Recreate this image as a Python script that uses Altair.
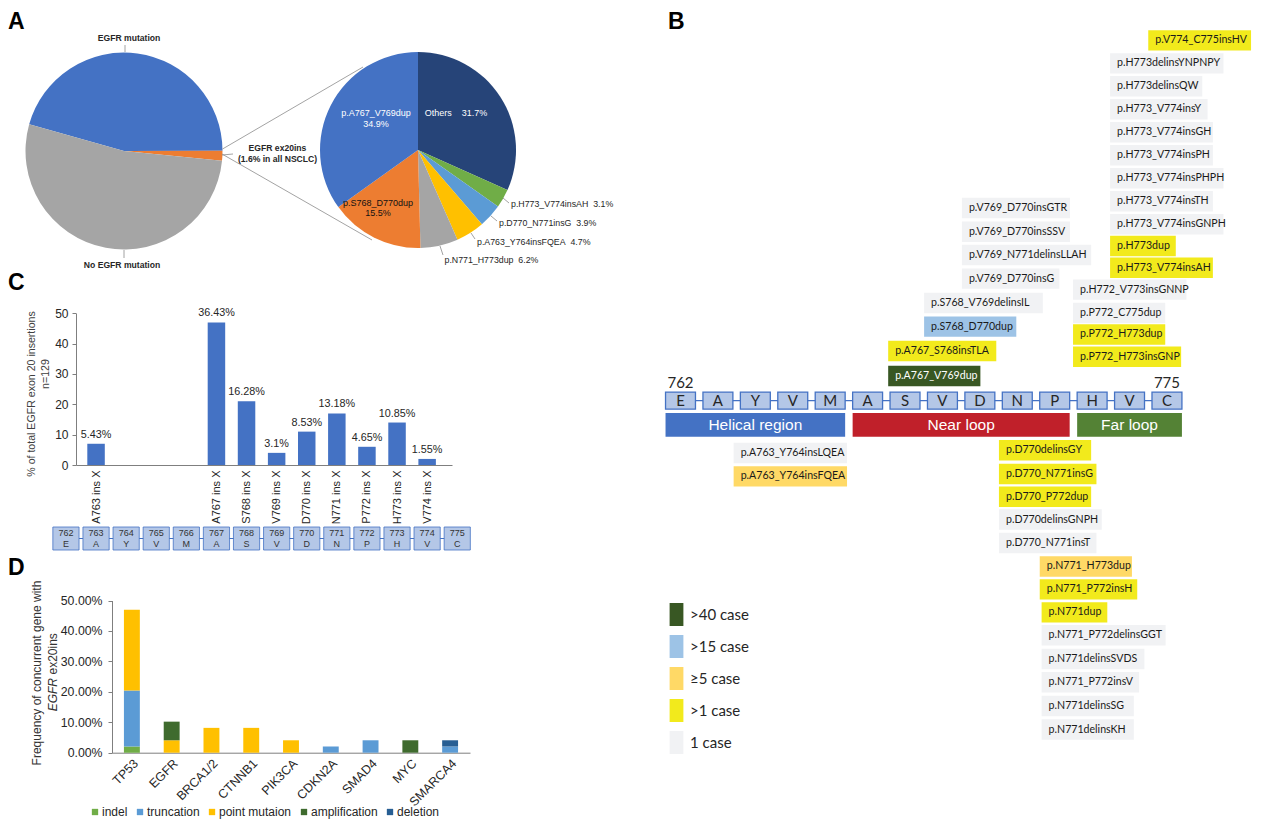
import math
import altair as alt
import pandas as pd

# ===================== DATA =====================
# A: EGFR status in NSCLC (%) and split of EGFR ex20ins variants (%)
pieA_labels = ["EGFR mutation", "EGFR ex20ins", "No EGFR mutation"]
pieA_values = [45.6, 1.6, 52.8]
pieB_labels = ["Others", "p.H773_V774insAH", "p.D770_N771insG", "p.A763_Y764insFQEA",
               "p.N771_H773dup", "p.S768_D770dup", "p.A767_V769dup"]
pieB_values = [31.7, 3.1, 3.9, 4.7, 6.2, 15.5, 34.9]

# B: insertion variants along EGFR exon 20 (residues 762-775)
res_nums = list(range(762, 776))
res_letters = ["E", "A", "Y", "V", "M", "A", "S", "V", "D", "N", "P", "H", "V", "C"]
region_names = ["Helical region", "Near loop", "Far loop"]
region_first = [762, 767, 773]
region_last = [766, 772, 775]
case_classes = [">40 case", ">15 case", "≥5 case", ">1 case", "1 case"]
ins_labels = [
    "p.V774_C775insHV", "p.H773delinsYNPNPY", "p.H773delinsQW", "p.H773_V774insY",
    "p.H773_V774insGH", "p.H773_V774insPH", "p.H773_V774insPHPH", "p.H773_V774insTH",
    "p.H773_V774insGNPH", "p.H773dup", "p.H773_V774insAH",
    "p.H772_V773insGNNP", "p.P772_C775dup", "p.P772_H773dup", "p.P772_H773insGNP",
    "p.V769_D770insGTR", "p.V769_D770insSSV", "p.V769_N771delinsLLAH", "p.V769_D770insG",
    "p.S768_V769delinsIL", "p.S768_D770dup",
    "p.A767_S768insTLA", "p.A767_V769dup",
    "p.A763_Y764insLQEA", "p.A763_Y764insFQEA",
    "p.D770delinsGY", "p.D770_N771insG", "p.D770_P772dup", "p.D770delinsGNPH", "p.D770_N771insT",
    "p.N771_H773dup", "p.N771_P772insH", "p.N771dup", "p.N771_P772delinsGGT",
    "p.N771delinsSVDS", "p.N771_P772insV", "p.N771delinsSG", "p.N771delinsKH",
]
ins_cases = [
    ">1 case", "1 case", "1 case", "1 case",
    "1 case", "1 case", "1 case", "1 case",
    "1 case", ">1 case", ">1 case",
    "1 case", "1 case", ">1 case", ">1 case",
    "1 case", "1 case", "1 case", "1 case",
    "1 case", ">15 case",
    ">1 case", ">40 case",
    "1 case", "≥5 case",
    ">1 case", ">1 case", ">1 case", "1 case", "1 case",
    "≥5 case", ">1 case", ">1 case", "1 case",
    "1 case", "1 case", "1 case", "1 case",
]

# C: cases per insertion site (n=129) and their share
c_sites = [763, 767, 768, 769, 770, 771, 772, 773, 774]
c_counts = [7, 47, 21, 4, 11, 17, 6, 14, 2]
c_pct = ["5.43%", "36.43%", "16.28%", "3.1%", "8.53%", "13.18%", "4.65%", "10.85%", "1.55%"]

# D: concurrent alterations (% of cases)
genes = ["TP53", "EGFR", "BRCA1/2", "CTNNB1", "PIK3CA", "CDKN2A", "SMAD4", "MYC", "SMARCA4"]
mut_types = ["indel", "truncation", "point mutaion", "amplification", "deletion"]
d_indel = [2.04, 0, 0, 0, 0, 0, 0, 0, 0]
d_truncation = [18.37, 0, 0, 0, 0, 2.04, 4.08, 0, 2.04]
d_point = [26.53, 4.08, 8.16, 8.16, 4.08, 0, 0, 0, 0]
d_amplification = [0, 6.12, 0, 0, 0, 0, 0, 4.08, 0]
d_deletion = [0, 0, 0, 0, 0, 0, 0, 0, 2.04]

# ===================== LAYOUT / STYLE =====================
FONT = "Liberation Sans"
FONT_B = "Lato"
TXT = "#262626"
AXC = "#7F7F7F"
NB = "\u00a0"
M = 8
LEFT_W = 625
A_H, C_H, D_H = 263, 284, 265
B_W, B_H = 621, A_H + C_H + D_H

PIE_L = dict(cx=124, cy=151, r=98.5, start=285.7,
             colors=["#4472C4", "#ED7D31", "#A5A5A5"])
PIE_R = dict(cx=418, cy=150, r=98, start=0.0,
             colors=["#264478", "#70AD47", "#5B9BD5", "#FFC000", "#A5A5A5", "#ED7D31", "#4472C4"])

CASE_COLORS = ["#385723", "#9DC3E6", "#FFD966", "#F2EA1C", "#F1F2F4"]
REGION_COLORS = ["#4472C4", "#C0202A", "#548235"]
MUT_COLORS = ["#70AD47", "#5B9BD5", "#FFC000", "#3F6B2E", "#275E93"]

# panel B geometry: residue units horizontally, row units vertically
B_X0, B_Y0 = M + LEFT_W, M
B_RES_X762, B_PITCH = 680.5, 37.42
B_ROW_Y0, B_ROW_H = 40.4, 22.97
ins_col = [774.5] + [773.48] * 10 + [772.49] * 4 + [769.52] * 4 + [768.51] * 2 + \
          [767.55] * 2 + [763.42] * 2 + [770.51] * 5 + [771.6] * 2 + [771.65] * 6
ins_row = [0, 1, 2, 3, 4, 5, 6, 7, 8, 8.95, 9.9,
           10.85, 11.87, 12.8, 13.77,
           7.3, 8.33, 9.34, 10.37,
           11.43, 12.46,
           13.52, 14.61,
           17.96, 18.98,
           17.84, 18.88, 19.87, 20.86, 21.88,
           22.9, 23.9, 24.9, 25.9, 26.93, 27.94, 28.98, 30.0]
RES_ROW, RES_HALF_H, RES_HALF_W = 15.68, 0.37, 0.4
NUM_ROW = 14.92
REG_ROW0, REG_ROW1 = 16.22, 17.26


def text_layer(df, xs, ys, **mk):
    return alt.Chart(df).mark_text(**mk).encode(
        x=alt.X("x:Q", scale=xs, axis=None),
        y=alt.Y("y:Q", scale=ys, axis=None),
        text="t:N")


def rule_layer(df, xs, ys, **mk):
    return alt.Chart(df).mark_rule(**mk).encode(
        x=alt.X("x:Q", scale=xs, axis=None),
        y=alt.Y("y:Q", scale=ys, axis=None),
        x2="x2:Q", y2="y2:Q")


def fixed_text(t, px, py, **mk):
    return alt.Chart(pd.DataFrame({"t": [t]})).mark_text(**mk).encode(
        text="t:N", x=alt.value(px), y=alt.value(py))


def literal_color(field):
    return alt.Color(field, scale=None, legend=None)


# ===================== PANEL A =====================
A_X0, A_Y0 = M, M
xA = alt.Scale(domain=[A_X0, A_X0 + LEFT_W], range=[0, LEFT_W], nice=False, zero=False)
yA = alt.Scale(domain=[A_Y0, A_Y0 + A_H], range=[0, A_H], nice=False, zero=False)


def pie(labels, values, spec):
    df = pd.DataFrame({"label": labels, "val": values,
                       "ord": list(range(len(labels))), "col": spec["colors"]})
    a0 = math.radians(spec["start"])
    return alt.Chart(df).mark_arc(outerRadius=spec["r"]).encode(
        theta=alt.Theta("val:Q", stack=True,
                        scale=alt.Scale(domain=[0, sum(values)], range=[a0, a0 + 2 * math.pi])),
        color=literal_color("col:N"),
        order=alt.Order("ord:Q"),
        x=alt.value(spec["cx"] - A_X0), y=alt.value(spec["cy"] - A_Y0))


pieL = pie(pieA_labels, pieA_values, PIE_L)
pieR = pie(pieB_labels, pieB_values, PIE_R)

connectors = pd.DataFrame({"x": [222.5, 222], "y": [149, 154], "x2": [363, 372], "y2": [67, 240]})
leaders = pd.DataFrame({
    "x": [125, 124, 222, 503, 491, 471, 440],
    "y": [45, 250, 155, 198, 216, 233, 246],
    "x2": [125, 124, 233, 509, 497, 475, 443],
    "y2": [52, 258, 154, 203, 221, 239, 255]})

a_bold = pd.DataFrame({
    "t": [pieA_labels[0], pieA_labels[2], pieA_labels[1], f"({pieA_values[1]}% in all NSCLC)"],
    "x": [129, 122, 277.5, 277.5],
    "y": [38, 265, 148, 158.5]})
a_white = pd.DataFrame({
    "t": [pieB_labels[6], f"{pieB_values[6]}%", f"{pieB_labels[0]}{NB * 4}{pieB_values[0]}%"],
    "x": [376, 376, 456], "y": [113, 124, 113]})
a_dark = pd.DataFrame({
    "t": [pieB_labels[5], f"{pieB_values[5]}%"],
    "x": [378, 378], "y": [202.7, 213]})
a_out = pd.DataFrame({
    "t": [f"{pieB_labels[i]}{NB * 2}{pieB_values[i]}%" for i in (1, 2, 3, 4)],
    "x": [511, 499, 477, 444.5], "y": [204, 223, 242, 260]})
a_letter = pd.DataFrame({"t": ["A"], "x": [8], "y": [29]})

panelA = alt.layer(
    pieL, pieR,
    rule_layer(connectors, xA, yA, color="#8C8C8C", strokeWidth=0.8),
    rule_layer(leaders, xA, yA, color="#8C8C8C", strokeWidth=0.8),
    text_layer(a_bold, xA, yA, font=FONT, fontSize=8.6, fontWeight="bold", color=TXT),
    text_layer(a_white, xA, yA, font=FONT, fontSize=9, color="white"),
    text_layer(a_dark, xA, yA, font=FONT, fontSize=9, color="#111111"),
    text_layer(a_out, xA, yA, font=FONT, fontSize=8.8, color=TXT, align="left"),
    text_layer(a_letter, xA, yA, font=FONT, fontSize=23, fontWeight="bold", color="black",
               align="left", baseline="alphabetic"),
).resolve_scale(theta="independent").properties(width=LEFT_W, height=A_H)

# ===================== PANEL C =====================
C_X0, C_Y0 = M, M + A_H
xC = alt.Scale(domain=[762.5, 774.66], range=[76 - C_X0, 452 - C_X0], nice=False, zero=False)
yC = alt.Scale(domain=[0, 50], range=[465 - C_Y0, 313.3 - C_Y0], nice=False, zero=False)

c_axis_labels = [f"{res_letters[s - res_nums[0]]}{s} ins X" for s in c_sites]
c_label_expr = "[" + ",".join(f"'{l}'" for l in c_axis_labels) + "][indexof([" + \
    ",".join(str(s) for s in c_sites) + "], datum.value)]"
axXC = alt.Axis(values=c_sites, labelExpr=c_label_expr, labelAngle=-90, title=None,
                labelFont=FONT, labelFontSize=11, labelColor=TXT, labelPadding=5,
                labelFlush=False, labelOverlap=False, ticks=False, grid=False,
                domainColor=AXC, offset=(465 - C_Y0) - C_H)
axYC = alt.Axis(values=[0, 10, 20, 30, 40, 50], labelFont=FONT, labelFontSize=12, title=None,
                labelColor=TXT, labelPadding=4, tickSize=4, tickColor=AXC,
                domainColor=AXC, grid=False, offset=-(76 - C_X0))

dfC = pd.DataFrame({"site": c_sites, "n": c_counts, "pct": c_pct})
barsC = alt.Chart(dfC).mark_bar(size=17.5, color="#4472C4", orient="vertical").encode(
    x=alt.X("site:Q", scale=xC, axis=axXC, title=None),
    y=alt.Y("n:Q", scale=yC, axis=axYC, title=None))
labelsC = alt.Chart(dfC).mark_text(dy=-9, font=FONT, fontSize=10.8, color=TXT).encode(
    x=alt.X("site:Q", scale=xC, axis=axXC, title=None),
    y=alt.Y("n:Q", scale=yC, axis=axYC, title=None), text="pct:N")

dfResC = pd.DataFrame({"r": res_nums, "aa": res_letters, "num": [str(r) for r in res_nums]})
dfResC["r0"] = dfResC["r"] - 0.435
dfResC["r1"] = dfResC["r"] + 0.435
chainC = alt.Chart(pd.DataFrame({"a": [res_nums[0]], "b": [res_nums[-1]]})).mark_rule(
    color="#4472C4", strokeWidth=1).encode(
    x=alt.X("a:Q", scale=xC, axis=axXC, title=None), x2="b:Q", y=alt.value(538.5 - C_Y0))
boxesC = alt.Chart(dfResC).mark_rect(fill="#B4C7E7", stroke="#4472C4", strokeWidth=0.8).encode(
    x=alt.X("r0:Q", scale=xC, axis=axXC, title=None), x2="r1:Q",
    y=alt.value(527 - C_Y0), y2=alt.value(550 - C_Y0))
numsC = alt.Chart(dfResC).mark_text(font=FONT, fontSize=9, color="#333333").encode(
    x=alt.X("r:Q", scale=xC, axis=axXC, title=None), y=alt.value(532.5 - C_Y0), text="num:N")
aasC = alt.Chart(dfResC).mark_text(font=FONT, fontSize=9, color="#333333").encode(
    x=alt.X("r:Q", scale=xC, axis=axXC, title=None), y=alt.value(544 - C_Y0), text="aa:N")

panelC = alt.layer(
    chainC, boxesC, numsC, aasC, barsC, labelsC,
    fixed_text("% of total EGFR exon 20 insertions", 31.5 - C_X0, 394 - C_Y0, angle=270,
               font=FONT, fontSize=10.6, color="#404040"),
    fixed_text("n=129", 46 - C_X0, 374 - C_Y0, angle=270, font=FONT, fontSize=10.6, color="#404040"),
    fixed_text("C", 0, 290 - C_Y0, font=FONT, fontSize=23, fontWeight="bold", color="black",
               align="left", baseline="alphabetic"),
).properties(width=LEFT_W, height=C_H)

# ===================== PANEL D =====================
D_X0, D_Y0 = M, M + A_H + C_H
xD = alt.Scale(domain=genes, range=[112 - D_X0, 470 - D_X0], paddingInner=0.6, paddingOuter=0.3)
yD = alt.Scale(domain=[0, 50], range=[752.7 - D_Y0, 600.5 - D_Y0], nice=False, zero=False)

d_series = [d_indel, d_truncation, d_point, d_amplification, d_deletion]
rowsD = []
for ti, (mt, vals) in enumerate(zip(mut_types, d_series)):
    for g, v in zip(genes, vals):
        if v > 0:
            rowsD.append({"gene": g, "type": mt, "val": v, "tidx": ti})
dfD = pd.DataFrame(rowsD)

barsD = alt.Chart(dfD).mark_bar().encode(
    x=alt.X("gene:N", scale=xD, sort=genes, title=None,
            axis=alt.Axis(labelAngle=-45, labelFont=FONT, labelFontSize=12.5, labelColor=TXT,
                          labelPadding=4, ticks=False, grid=False, domainColor=AXC,
                          offset=(752.7 - D_Y0) - D_H)),
    y=alt.Y("val:Q", stack="zero", scale=yD, title=None,
            axis=alt.Axis(values=[0, 10, 20, 30, 40, 50],
                          labelExpr="format(datum.value, '.2f') + '%'",
                          labelFont=FONT, labelFontSize=12.3, labelColor=TXT, labelPadding=6,
                          tickSize=4, tickColor=AXC, domainColor=AXC, grid=False,
                          offset=-(112 - D_X0))),
    color=alt.Color("type:N", scale=alt.Scale(domain=mut_types, range=MUT_COLORS),
                    legend=alt.Legend(title=None, orient="none", direction="horizontal",
                                      legendX=89 - D_X0, legendY=806 - D_Y0,
                                      symbolType="square", symbolSize=40, symbolStrokeWidth=0,
                                      labelFont=FONT, labelFontSize=12, labelColor=TXT,
                                      labelOffset=1, columnPadding=6, padding=0)),
    order=alt.Order("tidx:Q"))

panelD = alt.layer(
    barsD,
    fixed_text("Frequency of concurrent gene with", 37 - D_X0, 673 - D_Y0, angle=270,
               font=FONT, fontSize=12, color="#333333"),
    fixed_text("EGFR", 53 - D_X0, 678 - D_Y0, angle=270, align="right",
               font=FONT, fontSize=12, fontStyle="italic", color="#333333"),
    fixed_text("ex20ins", 53 - D_X0, 674.5 - D_Y0, angle=270, align="left",
               font=FONT, fontSize=12, color="#333333"),
    fixed_text("D", 0, 575 - D_Y0, font=FONT, fontSize=23, fontWeight="bold", color="black",
               align="left", baseline="alphabetic"),
).properties(width=LEFT_W, height=D_H)

# ===================== PANEL B =====================
xB = alt.Scale(domain=[res_nums[0], res_nums[-1]],
               range=[B_RES_X762 - B_X0, B_RES_X762 + (res_nums[-1] - res_nums[0]) * B_PITCH - B_X0],
               nice=False, zero=False)
yB = alt.Scale(domain=[0, 30], range=[B_ROW_Y0 - B_Y0, B_ROW_Y0 + 30 * B_ROW_H - B_Y0],
               nice=False, zero=False)

dfIns = pd.DataFrame({"lab": ins_labels, "cls": ins_cases, "c0": ins_col, "row": ins_row})
dfIns["c1"] = dfIns["c0"] + (5.3 * dfIns["lab"].str.len() + 18) / B_PITCH
dfIns["r0"] = dfIns["row"] - 0.445
dfIns["r1"] = dfIns["row"] + 0.445
dfIns["tcol"] = ["#FFFFFF" if c == case_classes[0] else "#1A1A1A" for c in dfIns["cls"]]

insBoxes = alt.Chart(dfIns).mark_rect().encode(
    x=alt.X("c0:Q", scale=xB, axis=None), x2="c1:Q",
    y=alt.Y("r0:Q", scale=yB, axis=None), y2="r1:Q",
    color=alt.Color("cls:N", scale=alt.Scale(domain=case_classes, range=CASE_COLORS),
                    legend=alt.Legend(title=None, orient="none", direction="vertical",
                                      legendX=665 - B_X0, legendY=603 - B_Y0,
                                      symbolType="M-0.6,-1H0.6V1H-0.6Z", symbolSize=529,
                                      symbolStrokeWidth=0, rowPadding=9, labelOffset=2,
                                      labelFont=FONT_B, labelFontSize=15, labelColor=TXT,
                                      padding=0)))
insText = alt.Chart(dfIns).mark_text(align="left", dx=7, font=FONT_B, fontSize=10.6).encode(
    x=alt.X("c0:Q", scale=xB, axis=None), y=alt.Y("row:Q", scale=yB, axis=None),
    text="lab:N", color=literal_color("tcol:N"))

dfReg = pd.DataFrame({"name": region_names, "first": region_first, "last": region_last,
                      "col": REGION_COLORS})
dfReg["x0"] = dfReg["first"] - RES_HALF_W
dfReg["x1"] = dfReg["last"] + RES_HALF_W
dfReg["xm"] = (dfReg["first"] + dfReg["last"]) / 2
dfReg["y0"] = REG_ROW0
dfReg["y1"] = REG_ROW1
dfReg["ym"] = (REG_ROW0 + REG_ROW1) / 2
regRects = alt.Chart(dfReg).mark_rect().encode(
    x=alt.X("x0:Q", scale=xB, axis=None), x2="x1:Q",
    y=alt.Y("y0:Q", scale=yB, axis=None), y2="y1:Q",
    color=literal_color("col:N"))
regText = alt.Chart(dfReg).mark_text(font=FONT, fontSize=15.5, color="white").encode(
    x=alt.X("xm:Q", scale=xB, axis=None), y=alt.Y("ym:Q", scale=yB, axis=None), text="name:N")

dfResB = pd.DataFrame({"r": res_nums, "aa": res_letters})
dfResB["x0"] = dfResB["r"] - RES_HALF_W
dfResB["x1"] = dfResB["r"] + RES_HALF_W
dfResB["y0"] = RES_ROW - RES_HALF_H
dfResB["y1"] = RES_ROW + RES_HALF_H
dfResB["ym"] = RES_ROW
chainB = alt.Chart(pd.DataFrame({"a": [res_nums[0]], "b": [res_nums[-1]], "y": [RES_ROW]})).mark_rule(
    color="#4472C4", strokeWidth=1.2).encode(
    x=alt.X("a:Q", scale=xB, axis=None), x2="b:Q", y=alt.Y("y:Q", scale=yB, axis=None))
resBoxes = alt.Chart(dfResB).mark_rect(fill="#B4C7E7", stroke="#4472C4", strokeWidth=1.3).encode(
    x=alt.X("x0:Q", scale=xB, axis=None), x2="x1:Q",
    y=alt.Y("y0:Q", scale=yB, axis=None), y2="y1:Q")
resText = alt.Chart(dfResB).mark_text(font="Lato", fontSize=15, color="#262626").encode(
    x=alt.X("r:Q", scale=xB, axis=None), y=alt.Y("ym:Q", scale=yB, axis=None), text="aa:N")
dfEnds = pd.DataFrame({"t": [str(res_nums[0]), str(res_nums[-1])],
                       "x": [res_nums[0], res_nums[-1]], "y": [NUM_ROW, NUM_ROW]})
endText = text_layer(dfEnds, xB, yB, font="Lato", fontSize=15, color="#262626")

panelB = alt.layer(
    regRects, regText, chainB, resBoxes, resText, endText, insBoxes, insText,
    fixed_text("B", 668 - B_X0, 29 - B_Y0, font=FONT, fontSize=23, fontWeight="bold",
               color="black", align="left", baseline="alphabetic"),
).resolve_scale(color="independent").properties(width=B_W, height=B_H)

# ===================== ASSEMBLE =====================
left = alt.vconcat(panelA, panelC, panelD, spacing=0).resolve_scale(color="independent")
chart = alt.hconcat(left, panelB, spacing=0).resolve_scale(color="independent").properties(padding=0)
chart = chart.configure(font=FONT, background="white").configure_view(stroke=None)

chart.save("out.html", embed_options={"renderer": "svg", "actions": False})
